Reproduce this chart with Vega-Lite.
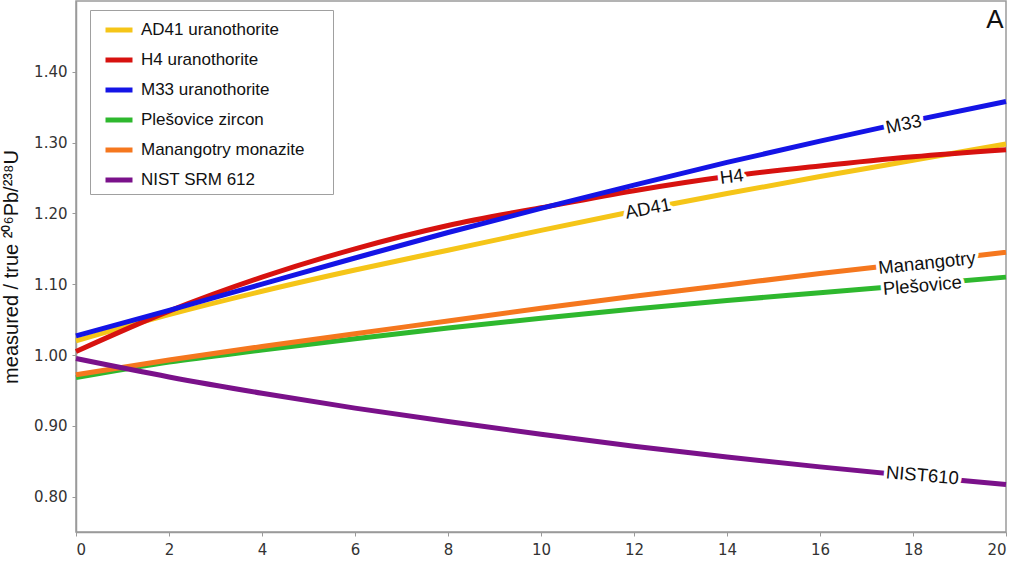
{
  "$schema": "https://vega.github.io/schema/vega-lite/v6.json",
  "width": 930,
  "height": 531,
  "autosize": {"type": "none"},
  "padding": {"left": 76, "top": 1, "right": 13, "bottom": 31},
  "background": "white",
  "config": {
    "view": {"stroke": "#9a9a9a", "strokeWidth": 1.5},
    "axis": {"grid": false, "domainColor": "#9a9a9a", "domainWidth": 1.5, "tickColor": "#9a9a9a", "tickSize": 4, "labelFont": "DejaVu Sans", "labelFontSize": 15, "labelColor": "#333333", "titleFont": "Liberation Sans", "titleFontWeight": "normal", "titleColor": "#111111"}
  },
  "datasets": {
    "curves": [
      {"s": "AD41 uranothorite", "x": 0, "y": 1.020}, {"s": "AD41 uranothorite", "x": 2, "y": 1.057}, {"s": "AD41 uranothorite", "x": 4, "y": 1.090}, {"s": "AD41 uranothorite", "x": 6, "y": 1.120}, {"s": "AD41 uranothorite", "x": 8, "y": 1.148}, {"s": "AD41 uranothorite", "x": 10, "y": 1.176}, {"s": "AD41 uranothorite", "x": 12, "y": 1.203}, {"s": "AD41 uranothorite", "x": 14, "y": 1.228}, {"s": "AD41 uranothorite", "x": 16, "y": 1.252}, {"s": "AD41 uranothorite", "x": 18, "y": 1.275}, {"s": "AD41 uranothorite", "x": 20, "y": 1.298},
      {"s": "H4 uranothorite", "x": 0, "y": 1.005}, {"s": "H4 uranothorite", "x": 2, "y": 1.062}, {"s": "H4 uranothorite", "x": 4, "y": 1.110}, {"s": "H4 uranothorite", "x": 6, "y": 1.150}, {"s": "H4 uranothorite", "x": 8, "y": 1.183}, {"s": "H4 uranothorite", "x": 10, "y": 1.208}, {"s": "H4 uranothorite", "x": 12, "y": 1.232}, {"s": "H4 uranothorite", "x": 14, "y": 1.252}, {"s": "H4 uranothorite", "x": 16, "y": 1.267}, {"s": "H4 uranothorite", "x": 18, "y": 1.280}, {"s": "H4 uranothorite", "x": 20, "y": 1.290},
      {"s": "M33 uranothorite", "x": 0, "y": 1.027}, {"s": "M33 uranothorite", "x": 2, "y": 1.063}, {"s": "M33 uranothorite", "x": 4, "y": 1.100}, {"s": "M33 uranothorite", "x": 6, "y": 1.137}, {"s": "M33 uranothorite", "x": 8, "y": 1.173}, {"s": "M33 uranothorite", "x": 10, "y": 1.207}, {"s": "M33 uranothorite", "x": 12, "y": 1.240}, {"s": "M33 uranothorite", "x": 14, "y": 1.272}, {"s": "M33 uranothorite", "x": 16, "y": 1.302}, {"s": "M33 uranothorite", "x": 18, "y": 1.331}, {"s": "M33 uranothorite", "x": 20, "y": 1.358},
      {"s": "Plešovice zircon", "x": 0, "y": 0.968}, {"s": "Plešovice zircon", "x": 2, "y": 0.990}, {"s": "Plešovice zircon", "x": 4, "y": 1.007}, {"s": "Plešovice zircon", "x": 6, "y": 1.023}, {"s": "Plešovice zircon", "x": 8, "y": 1.038}, {"s": "Plešovice zircon", "x": 10, "y": 1.052}, {"s": "Plešovice zircon", "x": 12, "y": 1.065}, {"s": "Plešovice zircon", "x": 14, "y": 1.077}, {"s": "Plešovice zircon", "x": 16, "y": 1.088}, {"s": "Plešovice zircon", "x": 18, "y": 1.099}, {"s": "Plešovice zircon", "x": 20, "y": 1.110},
      {"s": "Manangotry monazite", "x": 0, "y": 0.972}, {"s": "Manangotry monazite", "x": 2, "y": 0.993}, {"s": "Manangotry monazite", "x": 4, "y": 1.012}, {"s": "Manangotry monazite", "x": 6, "y": 1.030}, {"s": "Manangotry monazite", "x": 8, "y": 1.048}, {"s": "Manangotry monazite", "x": 10, "y": 1.066}, {"s": "Manangotry monazite", "x": 12, "y": 1.083}, {"s": "Manangotry monazite", "x": 14, "y": 1.099}, {"s": "Manangotry monazite", "x": 16, "y": 1.115}, {"s": "Manangotry monazite", "x": 18, "y": 1.130}, {"s": "Manangotry monazite", "x": 20, "y": 1.145},
      {"s": "NIST SRM 612", "x": 0, "y": 0.995}, {"s": "NIST SRM 612", "x": 2, "y": 0.969}, {"s": "NIST SRM 612", "x": 4, "y": 0.946}, {"s": "NIST SRM 612", "x": 6, "y": 0.925}, {"s": "NIST SRM 612", "x": 8, "y": 0.906}, {"s": "NIST SRM 612", "x": 10, "y": 0.888}, {"s": "NIST SRM 612", "x": 12, "y": 0.871}, {"s": "NIST SRM 612", "x": 14, "y": 0.856}, {"s": "NIST SRM 612", "x": 16, "y": 0.842}, {"s": "NIST SRM 612", "x": 18, "y": 0.829}, {"s": "NIST SRM 612", "x": 20, "y": 0.817}
    ],
    "labels": [
      {"label": "M33", "x": 17.8, "y": 1.326, "angle": -12},
      {"label": "H4", "x": 14.1, "y": 1.252, "angle": -7},
      {"label": "AD41", "x": 12.3, "y": 1.207, "angle": -11},
      {"label": "Manangotry", "x": 18.3, "y": 1.130, "angle": -6},
      {"label": "Plešovice", "x": 18.2, "y": 1.098, "angle": -5},
      {"label": "NIST610", "x": 18.2, "y": 0.830, "angle": 5}
    ],
    "panel": [{"label": "A", "x": 19.95, "y": 1.5}]
  },
  "layer": [
    {
      "data": {"name": "curves"},
      "mark": {"type": "line", "strokeWidth": 5, "interpolate": "monotone"},
      "encoding": {
        "x": {"field": "x", "type": "quantitative", "scale": {"domain": [0, 20], "nice": false}, "axis": {"values": [0, 2, 4, 6, 8, 10, 12, 14, 16, 18, 20], "title": null, "labelPadding": 6}},
        "y": {"field": "y", "type": "quantitative", "scale": {"domain": [0.75, 1.5], "nice": false, "zero": false}, "axis": {"values": [0.8, 0.9, 1.0, 1.1, 1.2, 1.3, 1.4], "format": ".2f", "title": "measured / true ²⁰⁶Pb/²³⁸U", "titleFontSize": 20, "titlePadding": 12, "labelPadding": 5}},
        "color": {
          "field": "s", "type": "nominal",
          "scale": {"domain": ["AD41 uranothorite", "H4 uranothorite", "M33 uranothorite", "Plešovice zircon", "Manangotry monazite", "NIST SRM 612"], "range": ["#f5c518", "#d7120f", "#1414e6", "#2eb82e", "#f5771e", "#7a118a"]},
          "legend": {"title": null, "orient": "none", "legendX": 14, "legendY": 9, "symbolType": "stroke", "symbolStrokeWidth": 5, "symbolSize": 729, "symbolOffset": 9, "labelFont": "Liberation Sans", "labelFontSize": 17, "labelColor": "#111111", "labelLimit": 400, "rowPadding": 4, "strokeColor": "#a0a0a0", "fillColor": "white", "padding": 4, "labelOffset": 6, "labelExpr": "datum.label + '\u2800\u2800'"}
        }
      }
    },
    {
      "data": {"name": "labels"},
      "mark": {"type": "text", "font": "Liberation Sans", "fontSize": 18.5, "stroke": "white", "strokeWidth": 7, "strokeJoin": "round", "fill": "white", "align": "center", "baseline": "middle"},
      "encoding": {
        "x": {"field": "x", "type": "quantitative"},
        "y": {"field": "y", "type": "quantitative"},
        "text": {"field": "label"},
        "angle": {"field": "angle", "type": "quantitative", "scale": null}
      }
    },
    {
      "data": {"name": "labels"},
      "mark": {"type": "text", "font": "Liberation Sans", "fontSize": 18.5, "fill": "#111111", "align": "center", "baseline": "middle"},
      "encoding": {
        "x": {"field": "x", "type": "quantitative"},
        "y": {"field": "y", "type": "quantitative"},
        "text": {"field": "label"},
        "angle": {"field": "angle", "type": "quantitative", "scale": null}
      }
    },
    {
      "data": {"name": "panel"},
      "mark": {"type": "text", "font": "Liberation Sans", "fontSize": 26, "fill": "#111111", "align": "right", "baseline": "top", "dy": 6},
      "encoding": {
        "x": {"field": "x", "type": "quantitative"},
        "y": {"field": "y", "type": "quantitative"},
        "text": {"field": "label"}
      }
    }
  ]
}
